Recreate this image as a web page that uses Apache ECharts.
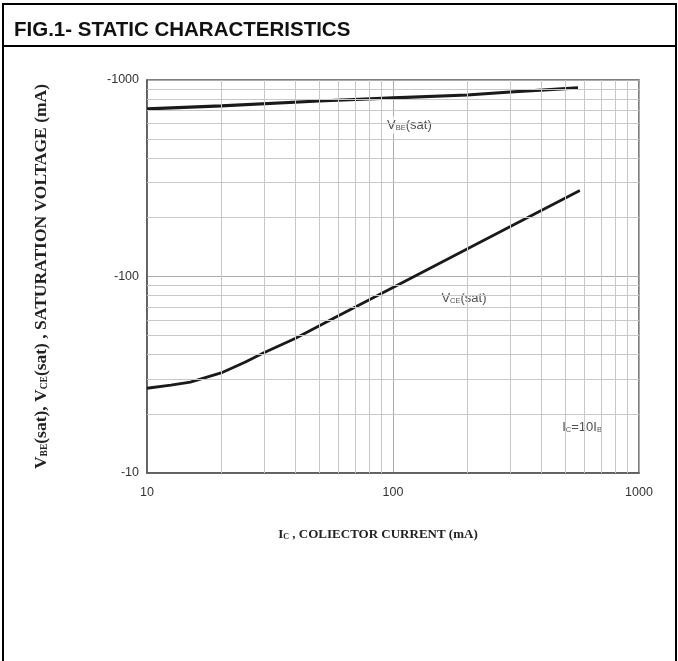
<!DOCTYPE html>
<html>
<head>
<meta charset="utf-8">
<script src="https://cdn.jsdelivr.net/npm/echarts@6/dist/echarts.min.js"></script>
<style>
html,body{margin:0;padding:0;background:#fff;}
#chart{width:678px;height:661px;}
</style>
</head>
<body>
<div id="chart"></div>
<script>
// ---- data ----
const titleText = 'FIG.1- STATIC CHARACTERISTICS';
const xTickValues = [10, 100, 1000];
const xTickLabels = ['10', '100', '1000'];
const yTickValues = [10, 100, 1000];
const yTickLabels = ['-10', '-100', '-1000'];
const minorGrid = [20, 30, 40, 50, 60, 70, 80, 90, 200, 300, 400, 500, 600, 700, 800, 900];

// V_BE(sat): collector current (mA) and |voltage|
const vbeIc = [10, 20, 50, 100, 200, 300, 565];
const vbeV  = [713, 738, 782, 811, 839, 869, 911];
// V_CE(sat)
const vceIc = [10, 12.5, 15, 20, 25, 30, 40, 60, 100, 200, 300, 575];
const vceV  = [27, 28, 29, 32.3, 36.6, 41, 48.4, 63.1, 87.9, 138, 179.5, 274];

// curve annotations (data-space anchor, left aligned)
const annIc = [92, 153, 474];
const annV  = [590, 77, 17.1];
const annText = ['{v|V}{s|BE}{v|(sat)}', '{v|V}{s|CE}{v|(sat)}', '{v|I}{s|C}{v|=10I}{s|B}'];

const zip = (a, b) => a.map((v, i) => [v, b[i]]);

const chart = echarts.init(document.getElementById('chart'), null, {renderer: 'canvas'});

const minorLines = minorGrid.map(v => ({xAxis: v})).concat(minorGrid.map(v => ({yAxis: v})));

const option = {
  backgroundColor: '#fff',
  animation: false,
  title: {
    text: titleText,
    left: 9, top: 15,
    textStyle: {fontFamily: 'Liberation Sans', fontWeight: 'bold', fontSize: 20.5, color: '#111'}
  },
  graphic: [
    {type: 'rect', shape: {x: 3, y: 4, width: 673, height: 700}, style: {fill: 'none', stroke: '#000', lineWidth: 2}, silent: true},
    {type: 'line', shape: {x1: 3, y1: 46, x2: 676, y2: 46}, style: {stroke: '#000', lineWidth: 2}, silent: true}
  ],
  grid: {left: 147, right: 39, top: 80, bottom: 188, show: true, borderColor: '#555', borderWidth: 1.5},
  xAxis: {
    type: 'log', logBase: 10, min: 10, max: 1000,
    axisLine: {show: true, lineStyle: {color: '#555', width: 1.5}},
    axisTick: {show: false},
    splitLine: {show: true, lineStyle: {color: '#aaa', width: 1}},
    axisLabel: {
      margin: 13, color: '#333', fontFamily: 'Liberation Sans', fontSize: 12.5,
      formatter: v => { const i = xTickValues.indexOf(Math.round(v)); return i >= 0 ? xTickLabels[i] : ''; }
    },
    name: '{b|I}{bs|C}{b| , COLIECTOR CURRENT (mA)}',
    nameLocation: 'middle', nameGap: 55,
    nameTextStyle: {
      padding: [0, 30, 0, 0],
      rich: {
        b: {fontFamily: 'Liberation Serif', fontWeight: 'bold', fontSize: 13, color: '#222'},
        bs: {fontFamily: 'Liberation Serif', fontWeight: 'bold', fontSize: 8, color: '#222', verticalAlign: 'bottom', padding: [5, 0, 0, 0]}
      }
    }
  },
  yAxis: {
    type: 'log', logBase: 10, min: 10, max: 1000,
    axisLine: {show: true, lineStyle: {color: '#555', width: 1.5}},
    axisTick: {show: false},
    splitLine: {show: true, lineStyle: {color: '#aaa', width: 1}},
    axisLabel: {
      margin: 8, color: '#333', fontFamily: 'Liberation Sans', fontSize: 12.5,
      formatter: v => { const i = yTickValues.indexOf(Math.round(v)); return i >= 0 ? yTickLabels[i] : ''; }
    },
    name: '{b|V}{bs|BE}{b|(sat), V}{bs|CE}{b|(sat) , SATURATION VOLTAGE (mA)}',
    nameLocation: 'middle', nameGap: 97, nameRotate: 90,
    nameTextStyle: {
      rich: {
        b: {fontFamily: 'Liberation Serif', fontWeight: 'bold', fontSize: 17.5, color: '#222'},
        bs: {fontFamily: 'Liberation Serif', fontWeight: 'bold', fontSize: 9.5, color: '#222', verticalAlign: 'bottom', padding: [6, 0, 0, 0]}
      }
    }
  },
  series: [
    {
      type: 'line', data: [[10, 10]], showSymbol: false, silent: true, z: 1,
      lineStyle: {opacity: 0},
      markLine: {
        silent: true, symbol: ['none', 'none'], animation: false,
        label: {show: false},
        lineStyle: {color: '#c8c8c8', width: 1, type: 'solid'},
        data: minorLines
      }
    },
    {
      name: 'VBE(sat)', type: 'line', data: zip(vbeIc, vbeV), showSymbol: false, z: 3,
      lineStyle: {color: '#1a1a1a', width: 3.2}
    },
    {
      name: 'VCE(sat)', type: 'line', data: zip(vceIc, vceV), showSymbol: false, z: 3,
      lineStyle: {color: '#1a1a1a', width: 2.8}
    },
    {
      type: 'scatter', symbolSize: 0, z: 4, silent: true,
      data: zip(annIc, annV).map((p, i) => ({value: p, label: {formatter: annText[i]}})),
      label: {
        show: true, position: 'right', distance: 0,
        backgroundColor: '#fff', padding: [2, 3],
        rich: {
          v: {fontFamily: 'Liberation Sans', fontSize: 13, color: '#222'},
          s: {fontFamily: 'Liberation Sans', fontSize: 7.5, color: '#222', verticalAlign: 'bottom', padding: [4, 0, 0, 0]}
        }
      }
    }
  ]
};
chart.setOption(option);
</script>
</body>
</html>
